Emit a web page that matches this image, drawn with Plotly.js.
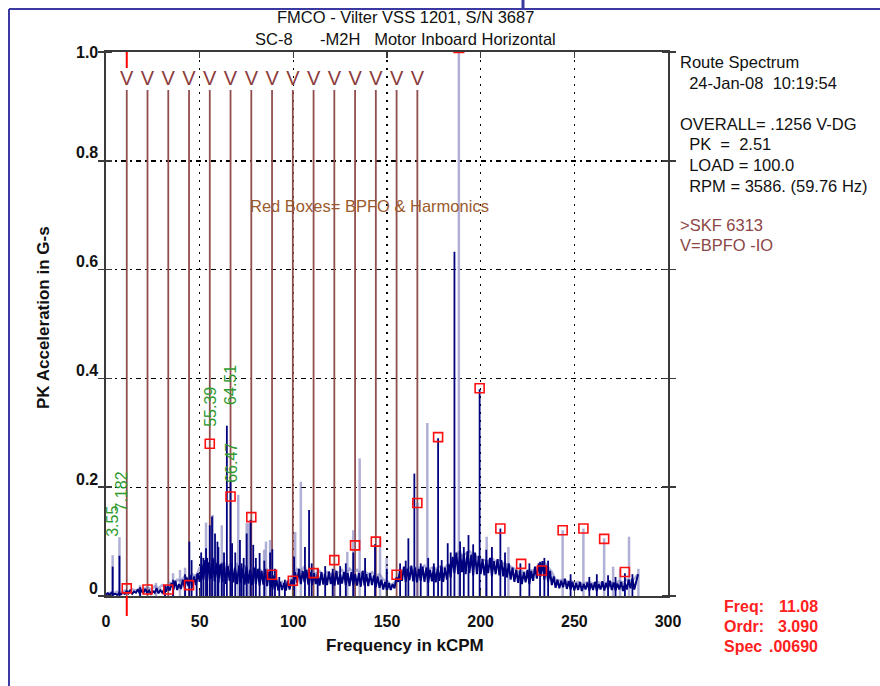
<!DOCTYPE html>
<html><head><meta charset="utf-8">
<script src="https://cdn.plot.ly/plotly-3.0.1.min.js"></script>
<style>html,body{margin:0;padding:0;background:#fff;}#chart{width:880px;height:686px;}</style>
</head><body><div id="chart"></div>
<script>
// ---------- DATA ----------
// Current spectrum (dark navy): noise floor sampled every 1 kCPM starting at 0
const darkBaseStart = 0, darkBaseStep = 1;
const darkBaseAmp = [
 0.003,0.005,0.002,0.006,0.003,0.004,0.002,0.005,0.003,0.006,
 0.004,0.009,0.005,0.011,0.004,0.008,0.006,0.012,0.005,0.010,
 0.006,0.013,0.005,0.010,0.004,0.009,0.006,0.014,0.005,0.011,
 0.006,0.012,0.008,0.018,0.010,0.024,0.012,0.028,0.011,0.022,
 0.013,0.030,0.015,0.034,0.018,0.038,0.016,0.036,0.020,0.042,
 0.026,0.058,0.030,0.066,0.028,0.062,0.032,0.070,0.027,0.060,
 0.024,0.058,0.026,0.062,0.022,0.055,0.028,0.060,0.025,0.052,
 0.022,0.056,0.024,0.050,0.021,0.054,0.023,0.048,0.020,0.052,
 0.022,0.050,0.019,0.046,0.021,0.050,0.018,0.044,0.016,0.038,
 0.012,0.030,0.010,0.026,0.011,0.024,0.010,0.028,0.012,0.030,
 0.020,0.044,0.024,0.050,0.022,0.046,0.025,0.048,0.021,0.044,
 0.020,0.042,0.022,0.040,0.019,0.044,0.021,0.040,0.020,0.045,
 0.022,0.042,0.019,0.046,0.021,0.040,0.023,0.044,0.020,0.042,
 0.018,0.044,0.020,0.040,0.019,0.042,0.017,0.046,0.019,0.040,
 0.018,0.042,0.020,0.038,0.016,0.036,0.015,0.030,0.012,0.026,
 0.010,0.024,0.011,0.022,0.014,0.034,0.026,0.050,0.028,0.054,
 0.026,0.050,0.029,0.056,0.027,0.052,0.025,0.050,0.028,0.054,
 0.026,0.052,0.024,0.048,0.027,0.054,0.025,0.050,0.028,0.056,
 0.026,0.052,0.030,0.058,0.034,0.072,0.042,0.080,0.040,0.084,
 0.044,0.078,0.040,0.082,0.042,0.076,0.038,0.080,0.040,0.074,
 0.040,0.068,0.038,0.066,0.042,0.070,0.036,0.064,0.040,0.068,
 0.038,0.066,0.036,0.062,0.034,0.060,0.030,0.052,0.026,0.048,
 0.024,0.046,0.022,0.044,0.025,0.048,0.022,0.046,0.028,0.054,
 0.032,0.060,0.036,0.064,0.030,0.056,0.026,0.046,0.020,0.036,
 0.015,0.030,0.014,0.028,0.016,0.032,0.013,0.027,0.012,0.026,
 0.010,0.024,0.011,0.026,0.009,0.022,0.012,0.025,0.010,0.023,
 0.011,0.026,0.009,0.022,0.012,0.027,0.010,0.024,0.013,0.028,
 0.011,0.025,0.010,0.023,0.012,0.026,0.009,0.024,0.012,0.030,
 0.014,0.032,0.012,0.028,0.040
];
// Current spectrum discrete peaks
const darkPeakFreq = [3.55,7.18,18.2,31.5,35.8,42.2,44.5,45.7,48.4,50.8,52.0,53.4,54.0,55.4,56.6,58.2,59.5,60.0,61.8,63.0,64.51,66.47,67.3,69.0,71.5,72.4,73.5,75.1,77.2,78.6,80.0,82.0,84.5,87.6,88.8,90.2,92.5,95.5,100.4,106.2,108.4,109.8,113.0,117.0,121.0,125.0,128.0,132.0,138.3,143.6,149.9,157.0,160.0,161.4,164.6,168.0,172.0,175.0,177.28,179.2,182.4,184.0,186.0,189.0,191.0,193.5,196.0,199.44,203.0,206.0,210.52,213.0,221.2,226.0,231.7,234.0,236.0,248.0,258.0,262.0,268.0,272.0,277.0,281.0];
const darkPeakAmp  = [0.054,0.074,0.016,0.020,0.030,0.040,0.100,0.066,0.040,0.080,0.070,0.088,0.070,0.130,0.146,0.115,0.100,0.090,0.060,0.080,0.313,0.210,0.097,0.080,0.103,0.060,0.070,0.115,0.140,0.094,0.070,0.079,0.065,0.080,0.086,0.050,0.035,0.030,0.072,0.090,0.158,0.060,0.050,0.055,0.050,0.055,0.060,0.080,0.070,0.095,0.050,0.060,0.065,0.106,0.225,0.060,0.070,0.060,0.290,0.066,0.097,0.080,0.633,0.100,0.090,0.112,0.095,0.380,0.085,0.090,0.124,0.080,0.060,0.060,0.063,0.070,0.065,0.040,0.035,0.040,0.038,0.035,0.042,0.040];

// Reference (previous) spectrum (light lavender): floor every 2 kCPM from 0
const lightBaseStart = 0, lightBaseStep = 2;
const lightBaseAmp = [
 0.004,0.006,0.005,0.008,0.006,0.010,0.008,0.012,0.010,0.014,
 0.012,0.016,0.012,0.018,0.014,0.020,0.016,0.024,0.020,0.030,
 0.028,0.036,0.032,0.040,0.036,0.052,0.048,0.060,0.050,0.066,
 0.050,0.062,0.046,0.058,0.044,0.060,0.042,0.056,0.044,0.052,
 0.042,0.050,0.040,0.048,0.036,0.034,0.024,0.026,0.020,0.028,
 0.040,0.050,0.046,0.054,0.042,0.048,0.040,0.046,0.038,0.044,
 0.040,0.046,0.042,0.048,0.038,0.050,0.044,0.048,0.040,0.046,
 0.040,0.044,0.036,0.040,0.030,0.028,0.020,0.024,0.034,0.046,
 0.048,0.052,0.046,0.054,0.050,0.056,0.048,0.052,0.050,0.054,
 0.050,0.056,0.060,0.070,0.080,0.074,0.078,0.082,0.076,0.072,
 0.068,0.066,0.064,0.070,0.062,0.066,0.060,0.058,0.054,0.050,
 0.044,0.046,0.042,0.048,0.046,0.052,0.058,0.062,0.054,0.044,
 0.030,0.028,0.030,0.026,0.028,0.024,0.026,0.022,0.024,0.026,
 0.022,0.026,0.024,0.022,0.026,0.024,0.022,0.028,0.024,0.030,
 0.028,0.032,0.040
];
const lightPeakFreq = [3.55,7.18,18.2,26.7,35.8,39.5,42.2,50.8,53.4,57.0,61.8,70.6,75.1,76.3,84.4,85.4,87.6,101.0,104.0,122.0,128.8,132.0,135.4,146.3,149.8,166.2,171.5,188.36,203.2,214.8,243.76,254.84,265.92,270.7,274.4,279.2,284.2];
const lightPeakAmp  = [0.075,0.108,0.020,0.024,0.042,0.048,0.052,0.072,0.135,0.149,0.130,0.186,0.134,0.134,0.085,0.100,0.103,0.118,0.210,0.050,0.081,0.121,0.253,0.107,0.070,0.171,0.318,2.51,0.109,0.090,0.121,0.124,0.106,0.054,0.050,0.109,0.050];

// BPFO harmonic cursor lines (kCPM)
const bpfoFreq = [11.08,22.16,33.24,44.32,55.40,66.48,77.56,88.64,99.72,110.80,121.88,132.96,144.04,155.12,166.20];
const bpfoLabel = 'V';
// Red boxes = BPFO & harmonics (kCPM, amplitude G-s)
const boxFreq = [11.08,22.16,33.24,44.32,55.40,66.48,77.56,88.64,99.72,110.80,121.88,132.96,144.04,155.12,166.20,177.28,188.36,199.44,210.52,221.60,232.68,243.76,254.84,265.92,277.00];
const boxAmp  = [0.014,0.012,0.012,0.020,0.280,0.183,0.145,0.039,0.028,0.042,0.066,0.093,0.100,0.039,0.171,0.292,2.51,0.382,0.124,0.059,0.047,0.121,0.124,0.105,0.044];

// Green peak labels (text, label centre in kCPM / G-s)
const peakLabelText = ['3.55','7.182','55.39','64.51','66.47'];
const peakLabelFreq = [3.7,8.5,56.1,66.7,67.3];
const peakLabelAmp  = [0.138,0.192,0.348,0.388,0.245];

const cursorFreq = 11.08;
const titleLines = ['FMCO - Vilter VSS 1201, S/N 3687', 'SC-8\u00a0\u00a0\u00a0\u00a0\u00a0\u00a0-M2H\u00a0\u00a0\u00a0Motor Inboard Horizontal'];
const infoLines = ['Route Spectrum', '\u00a0\u00a024-Jan-08\u00a0\u00a010:19:54', '', 'OVERALL= .1256 V-DG', '\u00a0\u00a0PK\u00a0\u00a0=\u00a0\u00a02.51', '\u00a0\u00a0LOAD = 100.0', '\u00a0\u00a0RPM = 3586. (59.76 Hz)'];
const faultLines = ['>SKF 6313', 'V=BPFO -IO'];
const boxNote = 'Red Boxes= BPFO & Harmonics';
const cursorLabels = ['Freq:', 'Ordr:', 'Spec'];
const cursorValues = ['11.08', '3.090', '.00690'];
const xTickVals = [0,50,100,150,200,250,300];
const yTickVals = [0,0.2,0.4,0.6,0.8,1.0];
const yTickText = ['0','0.2','0.4','0.6','0.8','1.0'];
const xTitle = 'Frequency in kCPM';
const yTitle = 'PK Acceleration in G-s';

// ---------- BUILD ----------
const PL = 106, PR = 668, PT = 52, PB = 596, W = 880, H = 686;
const px2x = p => (p - PL) / (PR - PL);
const py2y = p => (PB - p) / (PB - PT);

function spikes(f, a, top) {
  const x = [], y = [];
  f.forEach((v, i) => { x.push(v, v, null); y.push(0, top === undefined ? a[i] : top, null); });
  return {x, y};
}
const darkBaseX = darkBaseAmp.map((_, i) => darkBaseStart + i * darkBaseStep);
const lightBaseX = lightBaseAmp.map((_, i) => lightBaseStart + i * lightBaseStep);
const lightSp = spikes(lightPeakFreq, lightPeakAmp);
const darkSp = spikes(darkPeakFreq, darkPeakAmp);
const bpfoSp = spikes(bpfoFreq, null, 0.93);

const lightCol = 'rgba(112,112,182,0.55)';
const darkCol = '#00007f';
const brown = 'rgb(145,78,78)';

const inBox = boxAmp.map(a => a <= 1);
const traces = [
  {x: bpfoSp.x, y: bpfoSp.y, mode: 'lines', line: {color: brown, width: 1.8}, hoverinfo: 'skip'},
  {x: lightBaseX, y: lightBaseAmp, mode: 'lines', line: {color: lightCol, width: 2.5}, hoverinfo: 'skip'},
  {x: lightSp.x, y: lightSp.y, mode: 'lines', line: {color: lightCol, width: 2.5}, hoverinfo: 'skip'},
  {x: darkBaseX, y: darkBaseAmp, mode: 'lines', line: {color: darkCol, width: 2}, hoverinfo: 'skip'},
  {x: darkSp.x, y: darkSp.y, mode: 'lines', line: {color: darkCol, width: 1.8}, hoverinfo: 'skip'},
  {x: bpfoFreq, y: bpfoFreq.map(() => 0.948), mode: 'text', text: bpfoFreq.map(() => bpfoLabel),
   textfont: {family: 'Liberation Sans, Arial, sans-serif', size: 20, color: 'rgb(140,60,60)'}, textposition: 'middle center', hoverinfo: 'skip'},
  {x: boxFreq.filter((_, i) => inBox[i]), y: boxAmp.filter((_, i) => inBox[i]), mode: 'markers',
   marker: {symbol: 'square-open', size: 9, color: '#ff1010', line: {width: 1.6, color: '#ff1010'}}, cliponaxis: false, hoverinfo: 'skip'},
  {x: boxFreq.filter((_, i) => !inBox[i]), y: boxAmp.filter((_, i) => !inBox[i]).map(() => 1.0), mode: 'markers',
   marker: {symbol: 'line-ew', size: 8, color: '#ff1010', line: {width: 2.5, color: '#ff1010'}}, cliponaxis: false, hoverinfo: 'skip'}
];

const F = 'Liberation Sans, Arial, sans-serif';
const ann = [];
titleLines.forEach((t, i) => ann.push({xref: 'paper', yref: 'paper', x: px2x(406), y: py2y(17 + i * 22), text: t, showarrow: false,
  xanchor: 'center', yanchor: 'middle', font: {family: F, size: 16.5, color: '#111'}}));
infoLines.forEach((t, i) => { if (t) ann.push({xref: 'paper', yref: 'paper', x: px2x(678), y: py2y(62 + i * 20.6), text: t, showarrow: false,
  xanchor: 'left', yanchor: 'middle', font: {family: F, size: 16.5, color: '#111'}}); });
faultLines.forEach((t, i) => ann.push({xref: 'paper', yref: 'paper', x: px2x(678), y: py2y(225 + i * 20), text: t, showarrow: false,
  xanchor: 'left', yanchor: 'middle', font: {family: F, size: 16.5, color: 'rgb(140,70,70)'}}));
ann.push({xref: 'paper', yref: 'paper', x: px2x(369), y: py2y(206), text: boxNote, showarrow: false, xanchor: 'center', yanchor: 'middle',
  font: {family: F, size: 16.5, color: 'rgb(155,90,45)'}});
cursorLabels.forEach((t, i) => {
  ann.push({xref: 'paper', yref: 'paper', x: px2x(722), y: py2y(606 + i * 20), text: t, showarrow: false, xanchor: 'left', yanchor: 'middle',
    font: {family: F, size: 16, color: '#ff2020', weight: 'bold'}});
  ann.push({xref: 'paper', yref: 'paper', x: px2x(820), y: py2y(606 + i * 20), text: cursorValues[i], showarrow: false, xanchor: 'right', yanchor: 'middle',
    font: {family: F, size: 16, color: '#ff2020', weight: 'bold'}});
});
// y tick labels: drawn slightly above their ticks (top label stays level with the frame)
yTickVals.forEach((v, i) => ann.push({xref: 'paper', yref: 'y', x: 0, y: v, text: yTickText[i], showarrow: false,
  xanchor: 'right', yanchor: 'middle', xshift: -6, yshift: Math.min(8, (1 - v) * (PB - PT)),
  font: {family: F, size: 16, color: '#111', weight: 'bold'}}));
peakLabelText.forEach((t, i) => ann.push({x: peakLabelFreq[i], y: peakLabelAmp[i], text: t, textangle: -90, showarrow: false,
  xanchor: 'center', yanchor: 'middle', font: {family: F, size: 16, color: '#2e9a2e'}}));
ann.push({xref: 'paper', yref: 'paper', x: px2x(405), y: py2y(645), text: xTitle, showarrow: false, xanchor: 'center', yanchor: 'middle',
  font: {family: F, size: 17, color: '#111', weight: 'bold'}});
ann.push({xref: 'paper', yref: 'paper', x: px2x(43), y: py2y(318), text: yTitle, textangle: -90, showarrow: false, xanchor: 'center', yanchor: 'middle',
  font: {family: F, size: 17, color: '#111', weight: 'bold'}});

const shapes = [
  // cursor marks
  {type: 'line', xref: 'x', yref: 'paper', x0: cursorFreq, x1: cursorFreq, y0: py2y(68), y1: py2y(52), line: {color: '#ff0000', width: 2}},
  {type: 'line', xref: 'x', yref: 'paper', x0: cursorFreq, x1: cursorFreq, y0: py2y(596), y1: py2y(616), line: {color: '#ff0000', width: 2}},
  // outer blue frame
  {type: 'line', xref: 'paper', yref: 'paper', x0: px2x(9), x1: px2x(9), y0: py2y(9), y1: py2y(700), line: {color: '#3a3aa0', width: 2}},
  {type: 'line', xref: 'paper', yref: 'paper', x0: px2x(9), x1: px2x(880), y0: py2y(9), y1: py2y(9), line: {color: '#3a3aa0', width: 2}},
  {type: 'line', xref: 'paper', yref: 'paper', x0: px2x(523), x1: px2x(523), y0: py2y(0), y1: py2y(9), line: {color: '#3a3aa0', width: 3}}
];

const axisCommon = {showline: true, linecolor: '#3a3a3a', linewidth: 2, mirror: 'ticks', zeroline: false,
  tickcolor: '#3a3a3a', tickwidth: 1.5, ticklen: 6, gridcolor: '#000', gridwidth: 1.4,
  tickfont: {family: F, size: 16, color: '#111', weight: 'bold'}};

const layout = {
  width: W, height: H, paper_bgcolor: '#fff', plot_bgcolor: '#fff', showlegend: false,
  margin: {l: PL, r: W - PR, t: PT, b: H - PB, pad: 0},
  xaxis: Object.assign({}, axisCommon, {range: [0, 300], tickmode: 'array', tickvals: xTickVals, ticks: 'inside',
    griddash: '2px,6px', ticklabelstandoff: 10}),
  yaxis: Object.assign({}, axisCommon, {range: [0, 1], tickmode: 'array', tickvals: yTickVals, ticks: 'outside',
    showticklabels: false, griddash: '5px,4px,2px,4px',
    minor: {tickmode: 'array', tickvals: yTickVals, ticks: 'inside', ticklen: 6, tickcolor: '#3a3a3a', tickwidth: 1.5, showgrid: false}}),
  annotations: ann, shapes: shapes
};
Plotly.newPlot('chart', traces, layout, {staticPlot: true});
</script></body></html>
